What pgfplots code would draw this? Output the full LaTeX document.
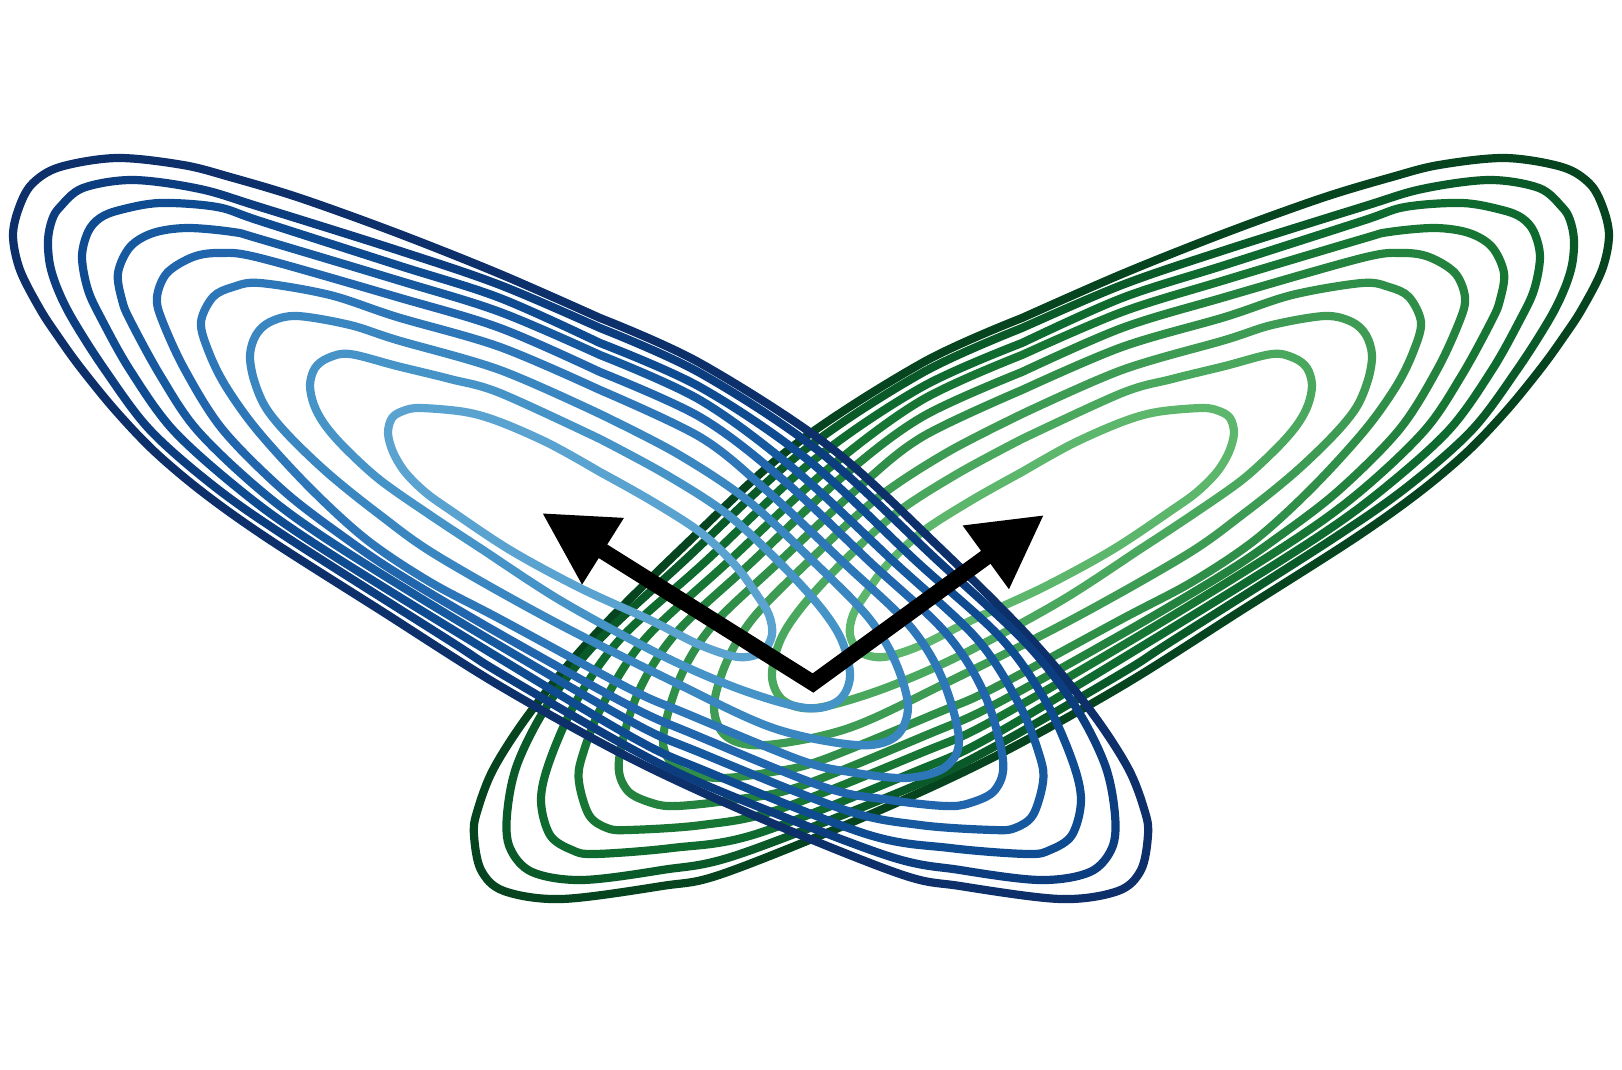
\documentclass[border=0pt]{standalone}
\usepackage{pgfplots}
\usepackage{pgfplotstable}
\pgfplotsset{compat=1.18}
\usetikzlibrary{arrows.meta}

% contour lines of the left cloud, pixel coordinates (y down); the right cloud is its mirror image
\pgfplotstableread{
x y
600 318
700 363
830 447
940 548
1030 638
1090 710
1128 768
1145 812
1148 835
1141 870
1118 891
1060 899
960 886
900 874
760 818
630 758
500 686
380 610
270 540
205 494
155 452
115 410
80 367
57 335
40 309
20 270
13 235
20 205
33 183
60 167
117 158
183 165
230 177
300 198
397 233
500 274
600 318
}\cA
\pgfplotstableread{
x y
600 328
700 373
820 452
937 560
1025 642
1075 706
1105 765
1115 815
1112 848
1090 872
1040 880
960 870
885 855
715 789
630 748
500 673
450 641
291 540
215 487
150 430
105 370
73 320
58 290
50 265
48 240
52 220
60 207
83 188
133 180
200 189
260 207
397 250
500 285
600 328
}\cB
\pgfplotstableread{
x y
600 343
700 387
808 460
916 561
1000 637
1045 700
1072 760
1081 800
1072 835
1050 850
1027 854
950 848
866 834
708 772
630 736
450 628
309 540
240 490
173 430
130 370
102 320
88 290
82 257
88 232
100 218
120 210
160 203
217 207
260 221
397 265
500 298
600 343
}\cC
\pgfplotstableread{
x y
600 355
700 400
794 469
893 561
977 639
1020 706
1040 757
1043 782
1033 815
1015 828
993 830
920 825
845 810
701 753
630 721
460 622
328 540
260 490
197 430
160 375
130 320
122 300
118 273
130 247
153 233
187 228
233 232
260 239
397 280
500 312
600 355
}\cD
\pgfplotstableread{
x y
600 372
700 417
781 478
870 562
945 632
984 693
1003 760
995 790
970 803
945 806
890 800
824 787
693 734
630 706
500 634
400 575
348 540
285 492
223 430
185 370
162 320
157 297
167 273
193 257
220 253
260 258
397 297
500 328
600 372
}\cE
\pgfplotstableread{
x y
600 390
700 437
765 489
844 563
909 625
942 678
959 740
944 768
905 778
850 772
800 760
685 713
630 689
500 619
430 582
367 540
310 488
257 430
225 385
208 350
201 322
213 297
233 287
260 283
330 295
397 317
500 347
600 390
}\cF
\pgfplotstableread{
x y
600 414
676 453
747 500
815 563
868 617
895 661
908 707
895 737
856 745
773 728
676 683
551 620
436 555
380 515
330 475
290 437
266 408
254 380
250 355
256 335
270 322
297 316
350 325
397 340
500 370
600 414
}\cG
\pgfplotstableread{
x y
600 439
665 474
727 514
781 564
821 608
842 641
850 677
838 701
806 708
742 690
665 657
563 602
480 548
430 515
380 480
345 448
325 425
314 405
310 385
315 368
328 358
350 354
397 366
450 379
500 393
600 439
}\cH
\pgfplotstableread{
x y
600 472
650 500
700 532
735 565
757 595
769 615
772 635
762 652
738 657
700 645
650 620
580 588
510 550
450 510
425 492
405 472
393 452
388 433
392 418
403 411
420 408
465 412
500 422
550 444
600 472
}\cI

\definecolor{b1}{HTML}{0D2F6A}
\definecolor{b2}{HTML}{0C3D7F}
\definecolor{b3}{HTML}{0E4B90}
\definecolor{b4}{HTML}{16599F}
\definecolor{b5}{HTML}{2166AC}
\definecolor{b6}{HTML}{2D77B8}
\definecolor{b7}{HTML}{3A86C1}
\definecolor{b8}{HTML}{4693C7}
\definecolor{b9}{HTML}{5AA2CF}
\definecolor{g1}{HTML}{05441E}
\definecolor{g2}{HTML}{0A5A29}
\definecolor{g3}{HTML}{0F6A2F}
\definecolor{g4}{HTML}{187634}
\definecolor{g5}{HTML}{23823D}
\definecolor{g6}{HTML}{2F8F48}
\definecolor{g7}{HTML}{3D9B53}
\definecolor{g8}{HTML}{4AA85E}
\definecolor{g9}{HTML}{5CB66C}

\pgfplotsset{
  canvas/.style={
    width=811pt, height=535pt, scale only axis,
    xmin=0, xmax=1622, ymin=0, ymax=1070, y dir=reverse,
    axis line style={draw=none}, xtick=\empty, ytick=\empty,
    clip=false,
  },
  ring/.style={smooth, tension=0.55, line width=4.1pt, line cap=round, line join=round, mark=none},
}

\begin{document}
\begin{tikzpicture}
% right cloud: same contours, mirrored
\begin{axis}[canvas, x dir=reverse]
  \addplot[ring, g1] table {\cA};
  \addplot[ring, g2] table {\cB};
  \addplot[ring, g3] table {\cC};
  \addplot[ring, g4] table {\cD};
  \addplot[ring, g5] table {\cE};
  \addplot[ring, g6] table {\cF};
  \addplot[ring, g7] table {\cG};
  \addplot[ring, g8] table {\cH};
  \addplot[ring, g9] table {\cI};
\end{axis}
% left cloud and the two arrows
\begin{axis}[canvas]
  \addplot[ring, b1] table {\cA};
  \addplot[ring, b2] table {\cB};
  \addplot[ring, b3] table {\cC};
  \addplot[ring, b4] table {\cD};
  \addplot[ring, b5] table {\cE};
  \addplot[ring, b6] table {\cF};
  \addplot[ring, b7] table {\cG};
  \addplot[ring, b8] table {\cH};
  \addplot[ring, b9] table {\cI};
  \addplot[black, line width=8pt, line join=miter, mark=none,
    {Triangle[length=36pt, width=37pt]}-{Triangle[length=36pt, width=37pt]}]
    coordinates {(542,513) (813,683) (1044,515)};
\end{axis}
\end{tikzpicture}
\end{document}
